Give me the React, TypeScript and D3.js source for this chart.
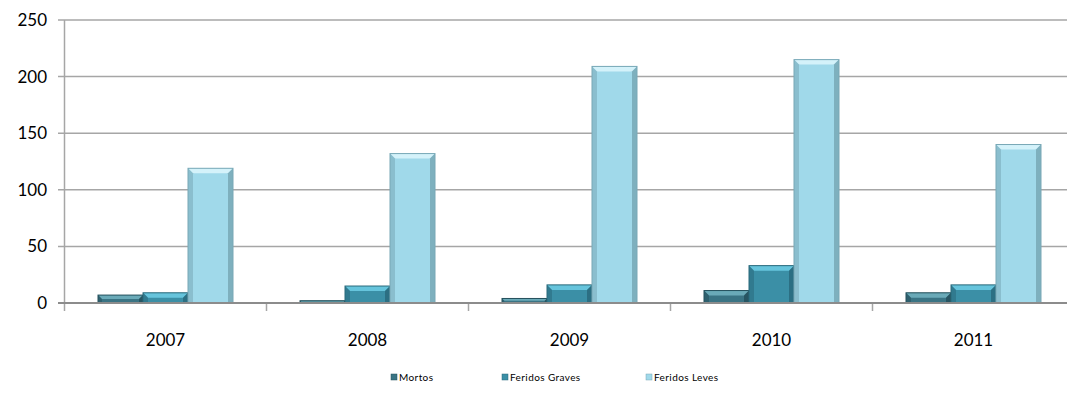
import React from "react";
import * as d3 from "d3";

const years = ["2007", "2008", "2009", "2010", "2011"];
const series = ["Mortos", "Feridos Graves", "Feridos Leves"];
const mortos = [7, 2, 4, 11, 9];
const feridosGraves = [9, 15, 16, 33, 16];
const feridosLeves = [119, 132, 209, 215, 140];
const yTicks = [0, 50, 100, 150, 200, 250];

const colors = [
  { base: "#3a7484", top: "#6aaab8", side: "#24505c" },
  { base: "#3b8fa6", top: "#66c4dc", side: "#2a6a7c" },
  { base: "#a0d9ea", top: "#d4f2fa", side: "#78a8b6" },
];

export default function App() {
  const W = 1067, H = 394;
  const x0 = 64.5, catW = 202;
  const y = d3.scaleLinear().domain([0, 250]).range([303, 20]);
  const x = d3.scaleBand().domain(years).range([x0, x0 + catW * 5]).paddingInner(0).paddingOuter(0);
  const inner = d3.scaleBand().domain(series).range([33.5, 168.5]);
  const data = [mortos, feridosGraves, feridosLeves];
  const font = "Lato, 'Open Sans', sans-serif";
  return (
    <svg width={W} height={H} style={{ position: "absolute", left: 0, top: 0 }}>
      <rect width={W} height={H} fill="#fff" />
      {yTicks.map((t) => (
        <g key={t}>
          <line x1={58} x2={W} y1={y(t)} y2={y(t)} stroke="#a6a6a6" strokeWidth={1.5} />
          <text x={47} y={y(t) + 6} textAnchor="end" fontSize={17} fontFamily={font} fill="#000">{t}</text>
        </g>
      ))}
      <line x1={x0} x2={x0} y1={y(250)} y2={y(0) + 8} stroke="#a6a6a6" strokeWidth={1.5} />
      {years.map((yr) => (
        <line key={yr} x1={(x(yr) as number) + catW} x2={(x(yr) as number) + catW} y1={y(0)} y2={y(0) + 8} stroke="#a6a6a6" strokeWidth={1.5} />
      ))}
      {years.map((yr) => (
        <text key={"l" + yr} x={(x(yr) as number) + catW / 2} y={346} textAnchor="middle" fontSize={17} fontFamily={font}>{yr}</text>
      ))}
      {data.map((vals, s) =>
        vals.map((v, i) => {
          const bx = (x(years[i]) as number) + (inner(series[s]) as number);
          const bw = inner.bandwidth();
          const by = y(v);
          const bh = y(0) - by;
          const c = colors[s];
          const bev = Math.min(5, bh / 2);
          return (
            <g key={s + "-" + i}>
              <rect x={bx} y={by} width={bw} height={bh} fill={c.base} />
              <polygon points={`${bx},${by} ${bx + bw},${by} ${bx + bw - bev},${by + bev} ${bx + bev},${by + bev}`} fill={c.top} />
              <polygon points={`${bx},${by} ${bx + bev},${by + bev} ${bx + bev},${by + bh} ${bx},${by + bh}`} fill={c.side} opacity={0.55} />
              <polygon points={`${bx + bw},${by} ${bx + bw - bev},${by + bev} ${bx + bw - bev},${by + bh} ${bx + bw},${by + bh}`} fill={c.side} opacity={0.85} />
              <rect x={bx} y={by} width={bw} height={bh} fill="none" stroke={c.side} strokeWidth={1} />
            </g>
          );
        })
      )}
      <line x1={58} x2={W} y1={y(0)} y2={y(0)} stroke="#8c8c8c" strokeWidth={2} />
      {series.map((s, i) => {
        const lx = [391, 502, 646][i];
        return (
          <g key={s}>
            <rect x={lx} y={374} width={6} height={6} fill={colors[i].base} stroke={colors[i].side} strokeWidth={0.5} />
            <text x={lx + 8} y={381} fontSize={10} letterSpacing={0.4} fontFamily={font}>{s}</text>
          </g>
        );
      })}
    </svg>
  );
}
